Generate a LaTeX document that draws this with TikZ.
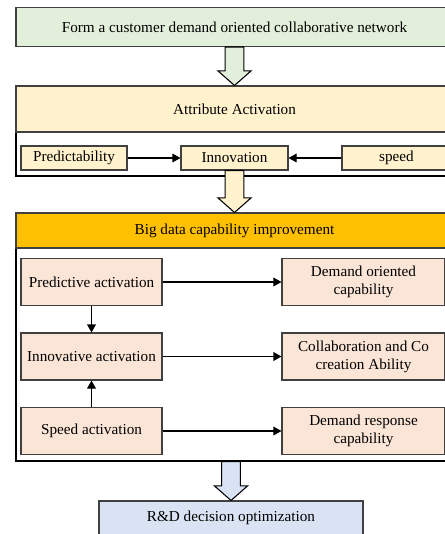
\documentclass[tikz,border=0pt]{standalone}
\usepackage{fontspec}
\setmainfont{Liberation Serif}
\usepackage{tikz}
\usetikzlibrary{calc, positioning, arrows.meta}

\definecolor{netgreen}{HTML}{E2EFDA}
\definecolor{attryellow}{HTML}{FFF2CC}
\definecolor{bigorange}{HTML}{FFC000}
\definecolor{actpeach}{HTML}{FBE5D6}
\definecolor{rdblue}{HTML}{DAE3F3}
\definecolor{edgegray}{HTML}{404040}

\begin{document}
\begin{tikzpicture}[
    x=0.75pt, y=-0.75pt,
    >={Triangle[length=6pt, width=6.5pt]},
    font=\fontsize{11.4}{13.5}\selectfont,
    box/.style={draw=edgegray, line width=0.8pt, rectangle, align=center, inner sep=1pt},
    frame/.style={draw=black, line width=0.8pt, rectangle},
    small/.style={box, fill=attryellow, minimum height=18pt},
    act/.style={box, fill=actpeach, minimum height=35.25pt},
    bigarrow/.style={draw=black, line width=0.8pt, fill=#1,
        to path={let \p1=(\tikztostart), \p2=(\tikztotarget) in
            (\x1-7pt,\y1) -- (\x1-7pt,\y2+11pt) -- (\x1-12.5pt,\y2+11pt) -- (\x2,\y2)
            -- (\x1+12.5pt,\y2+11pt) -- (\x1+7pt,\y2+11pt) -- (\x1+7pt,\y1) -- cycle}}
]
    \clip (0,0) rectangle (445,534);

    % Collaborative network
    \node[box, fill=netgreen, minimum width=327.75pt, minimum height=29.25pt] (network) at (234.5,27)
        {Form a customer demand oriented collaborative network};

    % Attribute activation
    \node[frame, minimum width=327.75pt, minimum height=67.5pt] (attrframe) at (234.5,131) {};
    \node[box, fill=attryellow, minimum width=327.75pt, minimum height=34.5pt, anchor=north] (attrhead)
        at (attrframe.north) {Attribute Activation};
    \node[small, minimum width=79.5pt] (predict) at (74,158) {Predictability};
    \node[small, minimum width=80.25pt] (innov) at (234.5,158) {Innovation};
    \node[small, minimum width=81.75pt] (speed) at (396.5,158) {speed};

    \draw[->, line width=0.8pt] (predict.east) -- (innov.west);
    \draw[->, line width=0.8pt] (speed.west) -- (innov.east);

    % Big data capability
    \node[frame, minimum width=327.75pt, minimum height=186pt] (bigframe) at (234.5,337) {};
    \node[box, fill=bigorange, minimum width=327.75pt, minimum height=26.25pt, anchor=north] (bighead)
        at (bigframe.north) {Big data capability improvement};

    \node[act, minimum width=105.75pt] (predact) at (91.5,282) {Predictive activation};
    \node[act, minimum width=105.75pt] (innact) at (91.5,356.5) {Innovative activation};
    \node[act, minimum width=105.75pt] (speedact) at (91.5,431) {Speed activation};

    \node[act, minimum width=122.25pt] (demand) at (363.5,282) {Demand oriented\\capability};
    \node[act, minimum width=122.25pt] (collab) at (363.5,356.5) {Collaboration and Co\\creation Ability};
    \node[act, minimum width=122.25pt] (response) at (363.5,431) {Demand response\\capability};

    \draw[->, line width=0.8pt] (predact) -- (demand);
    \draw[->, line width=0.8pt] (innact) -- (collab);
    \draw[->, line width=0.8pt] (speedact) -- (response);
    \draw[->, line width=0.8pt] (predact) -- (innact);
    \draw[->, line width=0.8pt] (speedact) -- (innact);

    % R&D decision
    \node[box, fill=rdblue, minimum width=198pt, minimum height=25.5pt] (rd) at (231,518)
        {R\&D decision optimization};

    % Block arrows between stages
    \draw[bigarrow=netgreen] (network.south) to (attrframe.north);
    \draw[bigarrow=attryellow] (innov.south) to (bigframe.north);
    \draw[bigarrow=rdblue] (bigframe.south -| rd.north) to (rd.north);

\end{tikzpicture}
\end{document}
